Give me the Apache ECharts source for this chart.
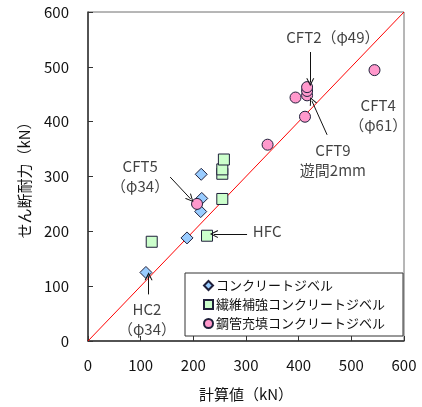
<!DOCTYPE html>
<html>
<head>
<meta charset="utf-8">
<script src="https://cdn.jsdelivr.net/npm/echarts@6/dist/echarts.min.js"></script>
<style>
  html, body { margin: 0; padding: 0; background: #fff; }
  #chart { width: 422px; height: 407px; }
</style>
</head>
<body>
<div id="chart"></div>
<script>
// [計算値, せん断耐力] (kN)
const concreteDowel = [[110, 125], [188, 188], [214, 236], [216, 260], [215, 304]];
const fiberDowel = [[121, 181], [226, 192], [255, 259], [255, 305], [255, 313], [258, 331]];
const cftDowel = [[207, 250], [341, 358], [394, 444], [412, 409], [416, 448], [416, 456], [416, 463], [544, 494]];

const seriesNames = ['コンクリートジベル', '繊維補強コンクリートジベル', '鋼管充填コンクリートジベル'];

// specimen notes placed in data coordinates
const notes = [
  { text: 'CFT2（φ49）', at: [465, 553], align: 'center' },
  { text: 'CFT4\n（φ61）', at: [551, 412], align: 'center' },
  { text: 'CFT9\n遊間2mm', at: [465, 330], align: 'center' },
  { text: 'CFT5\n（φ34）', at: [99, 301], align: 'center' },
  { text: 'HFC', at: [313, 200], align: 'left' },
  { text: 'HC2\n（φ34）', at: [112, 39], align: 'center' }
];
const arrows = [
  [[422, 527], [422, 472]],
  [[454, 376], [425, 438]],
  [[156, 299], [195, 259]],
  [[302, 195], [239, 195]],
  [[115, 85], [115, 118]]
];

const font = '"Noto Sans CJK JP", "Noto Sans", sans-serif';
const ink = '#111';
// open V-shaped arrow head, tip at the top
const arrowHead = 'path://M0,10 L5,0 L10,10 L8.6,10 L5,2.6 L1.4,10 Z';

const chart = echarts.init(document.getElementById('chart'), null, { renderer: 'canvas' });

function markerSeries(name, data, symbol, size, color) {
  return {
    name, type: 'scatter', data, symbol, symbolSize: size, z: 5,
    itemStyle: { color, borderColor: '#1f1f3a', borderWidth: 1, opacity: 1 }
  };
}

chart.setOption({
  animation: false,
  textStyle: { fontFamily: font },
  grid: {
    left: 88, right: 18, top: 12, bottom: 60,
    show: true, borderColor: '#6e6e6e', borderWidth: 1, backgroundColor: 'transparent'
  },
  xAxis: {
    type: 'value', min: 0, max: 600, interval: 100,
    name: '計算値（kN）', nameLocation: 'middle', nameGap: 46,
    nameTextStyle: { fontSize: 15, color: ink, fontFamily: font },
    axisLine: { show: true, onZero: false, lineStyle: { color: '#333', width: 1.5 } },
    axisTick: { show: true, inside: true, length: 5, lineStyle: { color: '#333' } },
    axisLabel: { fontSize: 15, color: ink, margin: 17, fontFamily: font },
    splitLine: { show: false }
  },
  yAxis: {
    type: 'value', min: 0, max: 600, interval: 100,
    name: 'せん断耐力（kN）', nameLocation: 'middle', nameGap: 56, nameRotate: 90,
    nameTextStyle: { fontSize: 15, color: ink, fontFamily: font },
    axisLine: { show: true, onZero: false, lineStyle: { color: '#333', width: 1.5 } },
    axisTick: { show: true, inside: true, length: 5, lineStyle: { color: '#333' } },
    axisLabel: { fontSize: 15, color: ink, margin: 19, fontFamily: font },
    splitLine: { show: false }
  },
  legend: {
    orient: 'vertical', left: 185, top: 273,
    data: seriesNames,
    itemWidth: 9, itemHeight: 9, itemGap: 6,
    padding: [6, 18, 6, 18],
    backgroundColor: '#fff', borderColor: '#333', borderWidth: 1,
    textStyle: { fontSize: 13, color: ink, fontFamily: font, padding: [0, 0, 0, -2] },
    selectedMode: false
  },
  series: [
    {
      name: 'y=x', type: 'line', data: [[0, 0], [600, 600]],
      symbol: 'none', silent: true, z: 2,
      lineStyle: { color: '#ff0000', width: 1 }
    },
    markerSeries(seriesNames[0], concreteDowel, 'diamond', 12, '#99ccff'),
    markerSeries(seriesNames[1], fiberDowel, 'rect', 11, '#ccffcc'),
    markerSeries(seriesNames[2], cftDowel, 'circle', 11, '#ff99cc'),
    {
      name: 'arrows', type: 'lines', coordinateSystem: 'cartesian2d', z: 6,
      silent: true, polyline: false,
      symbol: ['none', arrowHead], symbolSize: [9, 8],
      lineStyle: { color: '#111', width: 1, opacity: 1 },
      data: arrows.map(c => ({ coords: c }))
    },
    {
      name: 'notes', type: 'scatter', symbolSize: 0, silent: true, z: 7,
      data: notes.map(n => ({
        value: n.at,
        label: {
          show: true,
          position: n.align === 'left' ? 'right' : 'inside',
          distance: 0,
          formatter: n.text,
          fontSize: 15, lineHeight: 20, color: ink, fontFamily: font, align: n.align
        }
      }))
    }
  ]
});
</script>
</body>
</html>
